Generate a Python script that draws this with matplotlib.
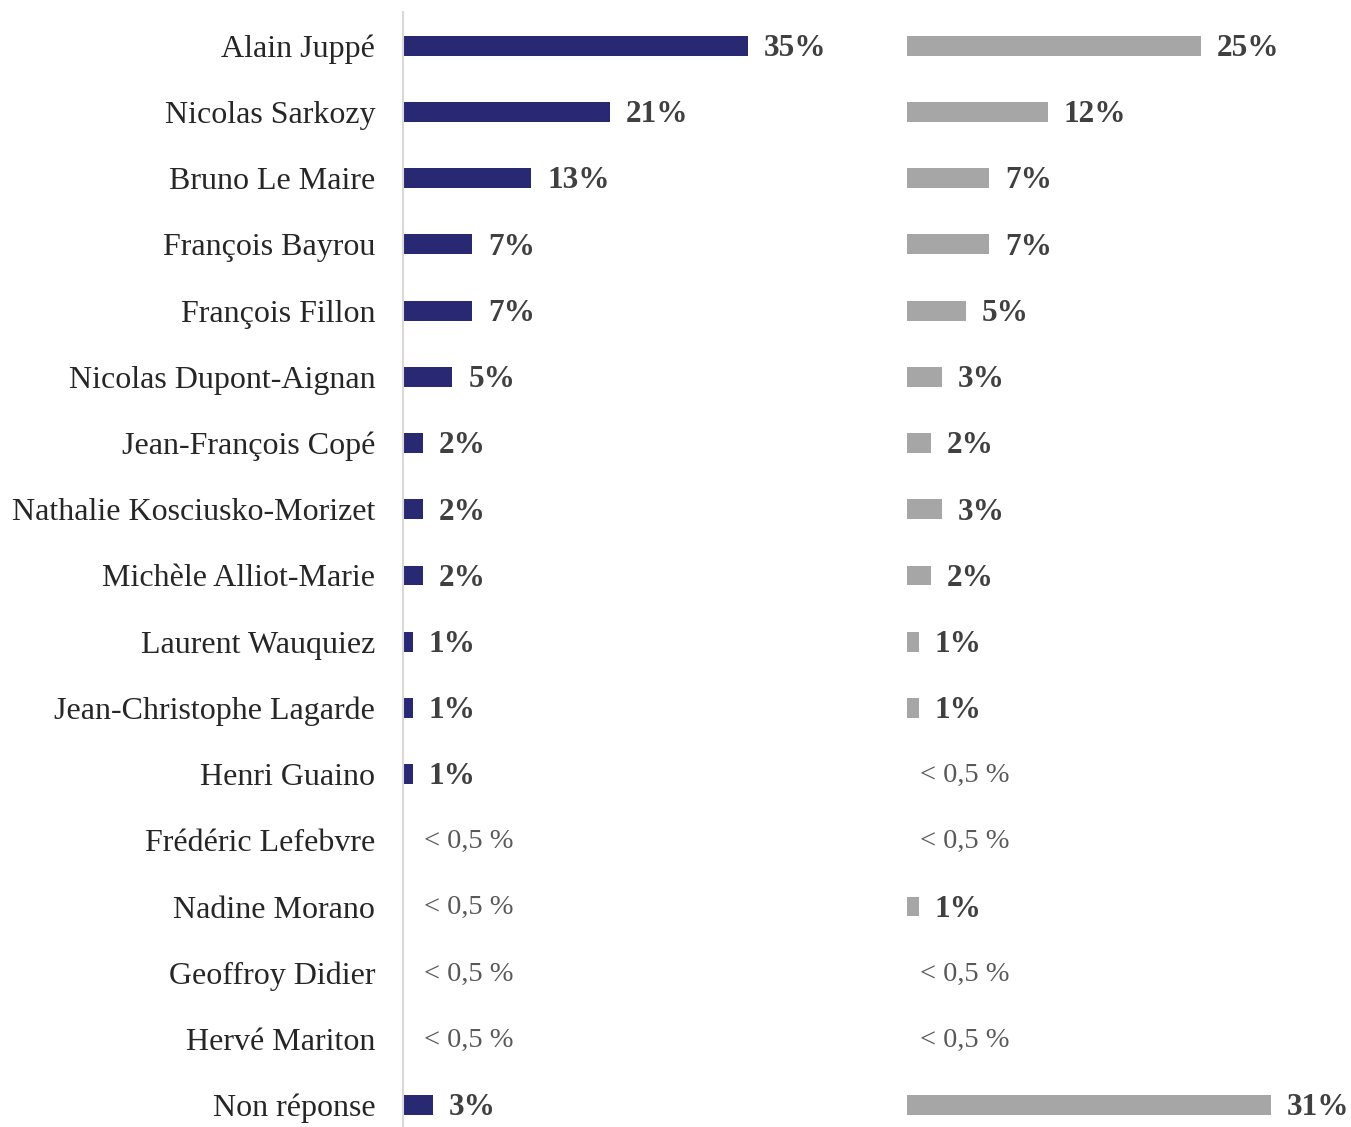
import numpy as np
import matplotlib
matplotlib.use("Agg")
from matplotlib import pyplot as plt

names = ["Alain Juppé", "Nicolas Sarkozy", "Bruno Le Maire", "François Bayrou",
         "François Fillon", "Nicolas Dupont-Aignan", "Jean-François Copé",
         "Nathalie Kosciusko-Morizet", "Michèle Alliot-Marie", "Laurent Wauquiez",
         "Jean-Christophe Lagarde", "Henri Guaino", "Frédéric Lefebvre",
         "Nadine Morano", "Geoffroy Didier", "Hervé Mariton", "Non réponse"]
# None = "< 0,5 %"
left_vals = [35, 21, 13, 7, 7, 5, 2, 2, 2, 1, 1, 1, None, None, None, None, 3]
right_vals = [25, 12, 7, 7, 5, 3, 2, 3, 2, 1, 1, None, None, 1, None, None, 31]

navy = "#282873"
grey = "#a6a6a6"
lbl_col = "#404040"
small_col = "#595959"
font = "Liberation Serif"

W, H = 1351, 1127
fig = plt.figure(figsize=(W / 100, H / 100), dpi=100)
top, bot = 12, 1127
axL = fig.add_axes([403 / W, 1 - bot / H, 467 / W, (bot - top) / H])
axR = fig.add_axes([907 / W, 1 - bot / H, 444 / W, (bot - top) / H])

y = np.arange(len(names))


def draw_panel(ax, vals, color, px_per, small_off):
    for i, v in enumerate(vals):
        if v is None:
            ax.annotate("< 0,5 %", (0, i), xytext=(small_off, -1), textcoords="offset points",
                        va="center", ha="left", fontsize=20.5, color=small_col, family=font)
            continue
        ax.barh(i, v, height=0.3, color=color)
        ax.annotate(f"{v}%", (v, i), xytext=(11.5, -2), textcoords="offset points",
                    va="center", ha="left", fontsize=22.5, fontweight="bold",
                    color=lbl_col, family=font)
    ax.set_ylim(16.33, -0.51)
    ax.set_xlim(0, px_per)
    ax.set_xticks([])
    for s in ["top", "right", "bottom", "left"]:
        ax.spines[s].set_visible(False)


draw_panel(axL, left_vals, navy, 467 / 9.86, 15)
draw_panel(axR, right_vals, grey, 444 / 11.75, 9.5)

axL.spines["left"].set_visible(True)
axL.spines["left"].set_color("#d9d9d9")
axL.spines["left"].set_linewidth(1.5)
axL.set_yticks(y)
axL.set_yticklabels(names, fontsize=23, family=font, color="#262626")
axL.tick_params(axis="y", length=0, pad=20)
axR.set_yticks([])

fig.savefig("out.png", dpi=100)
